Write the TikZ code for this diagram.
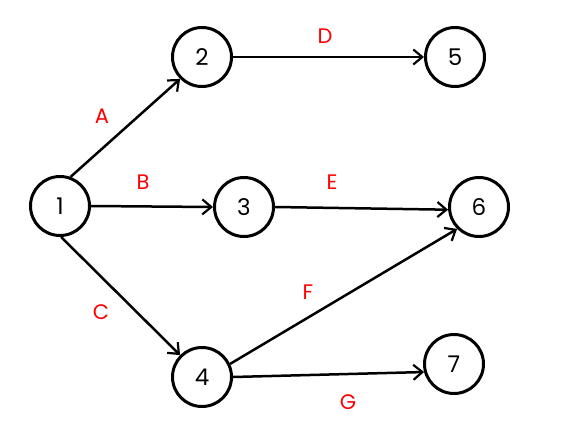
\documentclass[tikz,border=0pt]{standalone}
\usepackage{fontspec}
\setmainfont{Poppins}
\usetikzlibrary{arrows.meta}
\begin{document}
\begin{tikzpicture}[x=1pt,y=-1pt,
  vert/.style={circle,draw=black,line width=3pt,minimum size=59pt,inner sep=0pt,font=\fontsize{23}{23}\selectfont},
  edge/.style={line width=2.5pt,-{Straight Barb[length=9pt,width=15pt,line width=2.2pt]}},
  lbl/.style={text=red,font=\fontsize{21}{21}\selectfont}]
\useasboundingbox (0,0) rectangle (575,431);
\node[vert] (n1) at (60,206) {1};
\node[vert] (n2) at (202,57) {2};
\node[vert] (n3) at (244,207) {3};
\node[vert] (n4) at (202,377) {4};
\node[vert] (n5) at (455,57) {5};
\node[vert] (n6) at (479,207) {6};
\node[vert] (n7) at (454,364) {7};
\draw[edge] (n1.70) -- (n2.225);
\draw[edge] (n1.east) -- (n3.west);
\draw[edge] (n1.-88) -- (n4.135);
\draw[edge] (n2.east) -- (n5.west);
\draw[edge] (n3.east) -- (n6.185);
\draw[edge] (n4.25) -- (n6.225);
\draw[edge] (n4.east) -- (n7.195);
\node[lbl] (la) at (102,116) {A};
\node[lbl] (lb) at (143,182) {B};
\node[lbl] (lc) at (101,312) {C};
\node[lbl] (ld) at (325,36) {D};
\node[lbl] (le) at (332,182) {E};
\node[lbl] (lf) at (308,292) {F};
\node[lbl] (lg) at (348,402) {G};
\end{tikzpicture}
\end{document}
